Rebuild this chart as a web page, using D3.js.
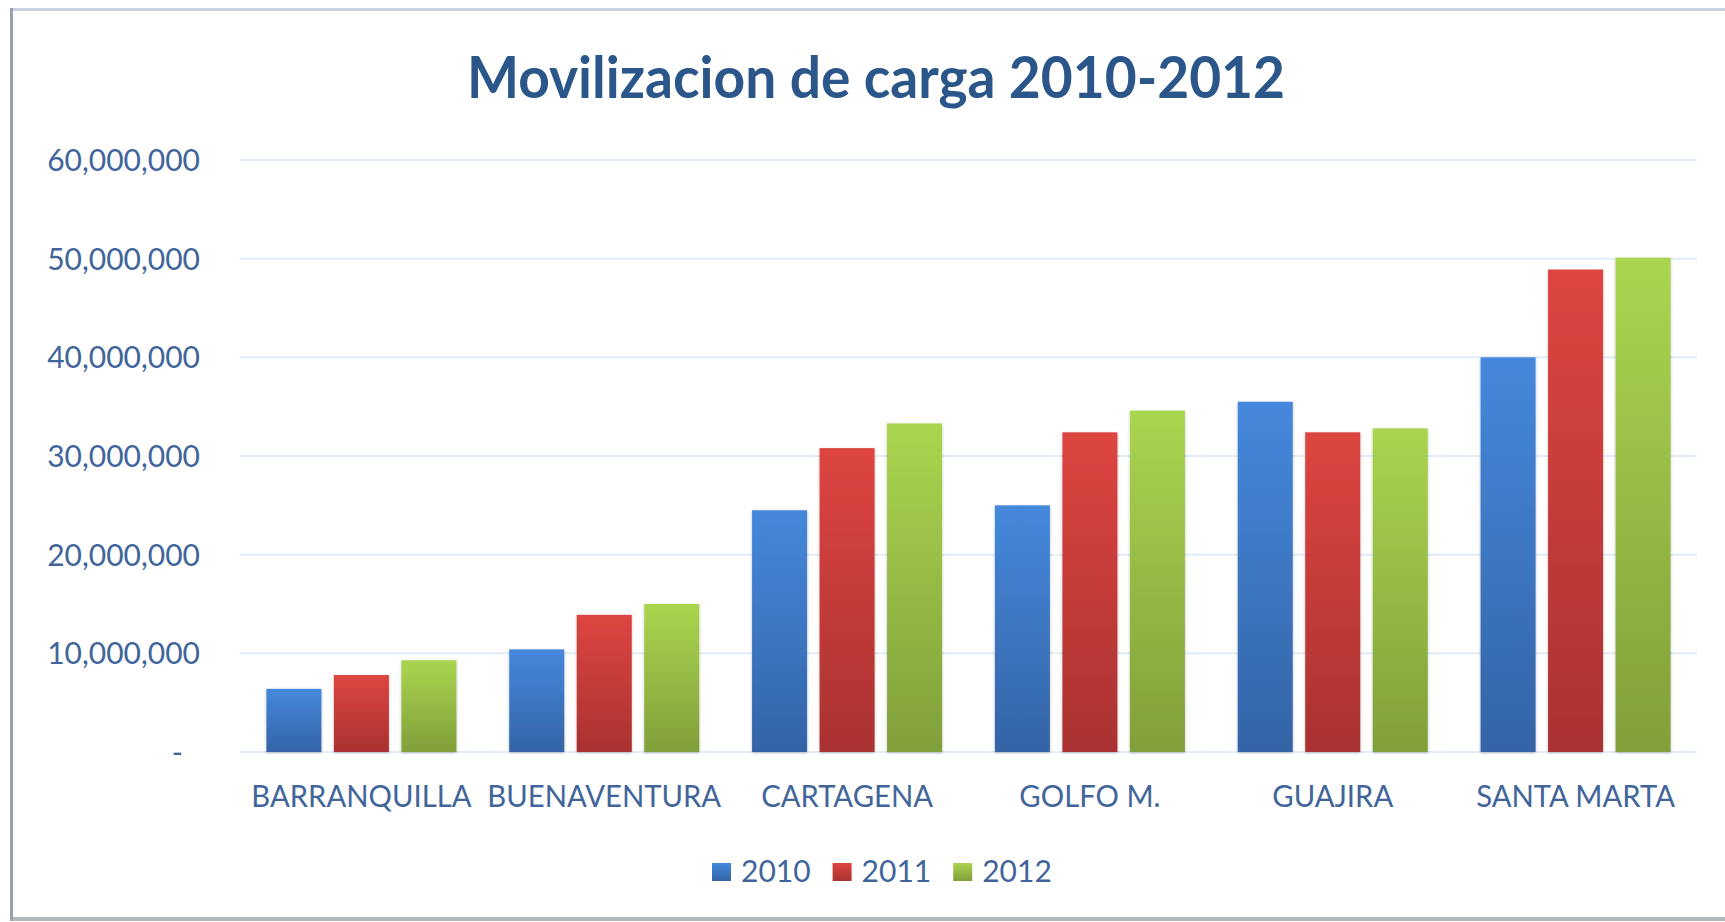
<!DOCTYPE html>
<html>
<head>
<meta charset="utf-8">
<script src="https://cdn.jsdelivr.net/npm/d3@7"></script>
<style>
  html, body { margin: 0; padding: 0; background: #ffffff; }
  svg { display: block; }
  text { font-family: Lato, "Open Sans", sans-serif; }
</style>
</head>
<body>
<svg id="chart" width="1725" height="922"></svg>
<script>
const title = "Movilizacion de carga 2010-2012";
const categories = ["BARRANQUILLA", "BUENAVENTURA", "CARTAGENA", "GOLFO M.", "GUAJIRA", "SANTA MARTA"];
const seriesNames = ["2010", "2011", "2012"];
const values2010 = [6400000, 10400000, 24500000, 25000000, 35500000, 40000000];
const values2011 = [7800000, 13900000, 30800000, 32400000, 32400000, 48900000];
const values2012 = [9300000, 15000000, 33300000, 34600000, 32800000, 50100000];
const yTicks = [0, 10000000, 20000000, 30000000, 40000000, 50000000, 60000000];

const seriesValues = [values2010, values2011, values2012];
const gradients = [
  ["#4588dc", "#3464a6"],
  ["#de4541", "#a93230"],
  ["#aad54f", "#819f3a"]
];

const svg = d3.select("#chart");
const defs = svg.append("defs");

gradients.forEach((g, i) => {
  const lg = defs.append("linearGradient")
    .attr("id", "grad" + i).attr("x1", 0).attr("y1", 0).attr("x2", 0).attr("y2", 1);
  lg.append("stop").attr("offset", "0%").attr("stop-color", g[0]);
  lg.append("stop").attr("offset", "100%").attr("stop-color", g[1]);
});
const f = defs.append("filter").attr("id", "shadow")
  .attr("x", "-20%").attr("y", "-5%").attr("width", "140%").attr("height", "110%");
f.append("feDropShadow").attr("dx", 0).attr("dy", 1).attr("stdDeviation", 1.6)
  .attr("flood-color", "#000").attr("flood-opacity", 0.25);

// frame
svg.append("line").attr("x1", 11).attr("x2", 1725).attr("y1", 9.5).attr("y2", 9.5)
  .attr("stroke", "#c9d3df").attr("stroke-width", 3);
svg.append("line").attr("x1", 11).attr("x2", 1725).attr("y1", 919).attr("y2", 919)
  .attr("stroke", "#b4b7bb").attr("stroke-width", 4);
svg.append("line").attr("x1", 11.5).attr("x2", 11.5).attr("y1", 8).attr("y2", 921)
  .attr("stroke", "#98a2ae").attr("stroke-width", 3);

const plotLeft = 240, plotRight = 1697, plotTop = 160, plotBottom = 752;

const x0 = d3.scaleBand().domain(categories).range([plotLeft, plotRight])
  .paddingInner(0.2175).paddingOuter(0.2175 / 2);
const x1 = d3.scaleBand().domain(seriesNames).range([0, x0.bandwidth()])
  .paddingInner(0.185).paddingOuter(0);
const y = d3.scaleLinear().domain([0, 60000000]).range([plotBottom, plotTop]);

const textColor = "#41659a";

// gridlines
svg.append("g").selectAll("line").data(yTicks).join("line")
  .attr("x1", plotLeft).attr("x2", plotRight)
  .attr("y1", d => y(d)).attr("y2", d => y(d))
  .attr("stroke", "#e2edf8").attr("stroke-width", 2);

// y axis labels
const fmt = d3.format(",");
const yAxis = d3.axisLeft(y).tickValues(yTicks).tickSize(0).tickPadding(0)
  .tickFormat(d => d === 0 ? "-" : fmt(d));
const yg = svg.append("g").attr("transform", `translate(200,0)`).call(yAxis);
yg.select(".domain").remove();
yg.selectAll("text")
  .attr("fill", textColor).attr("font-size", 30).attr("font-family", "Lato")
  .attr("dy", "0.35em")
  .attr("x", d => d === 0 ? -17 : 0);

// bars
const groups = svg.append("g").selectAll("g").data(categories).join("g")
  .attr("transform", d => `translate(${x0(d)},0)`);
groups.selectAll("rect")
  .data((c, ci) => seriesNames.map((s, si) => ({ s, si, v: seriesValues[si][ci] })))
  .join("rect")
  .attr("x", d => x1(d.s))
  .attr("width", x1.bandwidth())
  .attr("y", d => y(d.v))
  .attr("height", d => y(0) - y(d.v))
  .attr("fill", d => `url(#grad${d.si})`)
  .attr("filter", "url(#shadow)");

// x axis labels
const xAxis = d3.axisBottom(x0).tickSize(0).tickPadding(0);
const xg = svg.append("g").attr("transform", `translate(0,${plotBottom})`).call(xAxis);
xg.select(".domain").remove();
xg.selectAll("text")
  .attr("fill", textColor).attr("font-size", 30).attr("font-family", "Lato")
  .attr("dy", 0).attr("y", 55)
  .each(function () {
    const w = this.getComputedTextLength();
    d3.select(this).attr("textLength", w * 0.975).attr("lengthAdjust", "spacingAndGlyphs");
  });

// title
const t = svg.append("text").text(title)
  .attr("x", 876).attr("y", 98).attr("text-anchor", "middle")
  .attr("font-family", "Lato").attr("font-weight", 700).attr("font-size", 57)
  .attr("fill", "#2a5689");
t.attr("textLength", 818).attr("lengthAdjust", "spacingAndGlyphs");

// legend
const legend = svg.append("g");
let lx = 712;
seriesNames.forEach((s, i) => {
  legend.append("rect").attr("x", lx).attr("y", 863).attr("width", 19).attr("height", 18)
    .attr("fill", `url(#grad${i})`);
  const tx = legend.append("text").text(s)
    .attr("x", lx + 29).attr("y", 882)
    .attr("font-family", "Lato").attr("font-size", 30).attr("fill", textColor);
  const w = tx.node().getComputedTextLength();
  lx += 29 + w + 22;
});
</script>
</body>
</html>
